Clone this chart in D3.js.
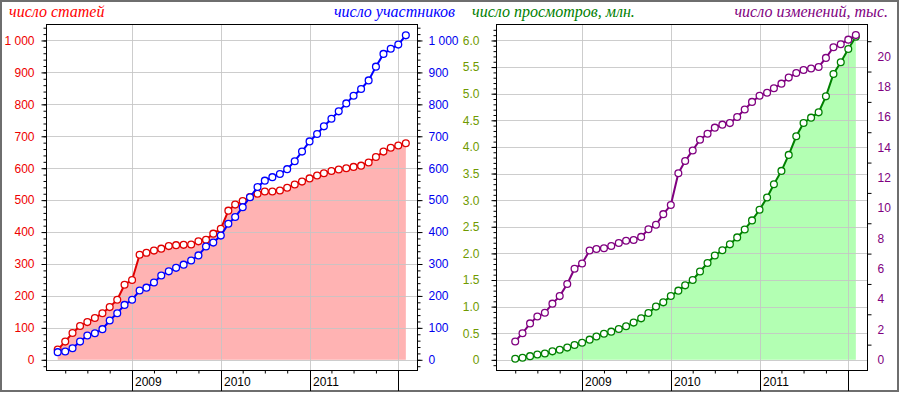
<!DOCTYPE html>
<html>
<head>
<meta charset="utf-8">
<script src="https://cdn.jsdelivr.net/npm/d3@7"></script>
<style>
  body { margin: 0; background: #fff; }
  svg { display: block; }
</style>
</head>
<body>
<svg width="900" height="393"></svg>
<script>
// Months of the left panel (first of each month); the right panel starts one month later.
const monthsL = ["2008-03","2008-04","2008-05","2008-06","2008-07","2008-08","2008-09","2008-10","2008-11","2008-12",
                 "2009-01","2009-02","2009-03","2009-04","2009-05","2009-06","2009-07","2009-08","2009-09","2009-10","2009-11","2009-12",
                 "2010-01","2010-02","2010-03","2010-04","2010-05","2010-06","2010-07","2010-08","2010-09","2010-10","2010-11","2010-12",
                 "2011-01","2011-02","2011-03","2011-04","2011-05","2011-06","2011-07","2011-08","2011-09","2011-10","2011-11","2011-12",
                 "2012-01","2012-02"];
const monthsR = monthsL.slice(1);

// число статей
const articles = [32, 57, 84, 106, 118, 131, 146, 165, 188, 235, 250, 329, 335, 342, 348, 356, 359, 360, 361, 371, 376, 395, 410, 467,
                  486, 497, 510, 520, 527, 527, 530, 539, 549, 558, 568, 577, 584, 591, 596, 600, 604, 608, 618, 635, 652, 664, 671, 678];
// число участников
const members = [24, 26, 36, 57, 76, 83, 96, 123, 146, 172, 188, 217, 226, 242, 264, 277, 288, 298, 311, 327, 355, 367, 389, 426,
                 447, 478, 509, 541, 561, 572, 582, 597, 622, 652, 684, 707, 731, 755, 778, 803, 827, 848, 875, 918, 958, 974, 987, 1016];
// число просмотров, млн.
const views = [0.02, 0.04, 0.07, 0.10, 0.12, 0.16, 0.19, 0.23, 0.28, 0.32, 0.38, 0.44, 0.49, 0.53, 0.58, 0.63, 0.70, 0.78, 0.88, 1.00,
               1.08, 1.20, 1.30, 1.40, 1.50, 1.66, 1.82, 1.96, 2.06, 2.17, 2.30, 2.45, 2.62, 2.82, 3.05, 3.30, 3.55, 3.85, 4.20, 4.45,
               4.55, 4.65, 4.95, 5.37, 5.59, 5.84, 6.07];
// число изменений, тыс.
const edits = [1.21, 1.75, 2.4, 2.85, 3.1, 3.7, 4.2, 5.0, 6.0, 6.35, 7.2, 7.3, 7.35, 7.5, 7.7, 7.85, 7.9, 8.1, 8.6, 8.9,
               9.6, 10.2, 12.3, 13.1, 13.8, 14.5, 14.9, 15.3, 15.5, 15.6, 16.0, 16.5, 17.0, 17.4, 17.6, 17.9, 18.2, 18.6, 18.9, 19.1,
               19.2, 19.3, 19.9, 20.6, 20.8, 21.1, 21.4];

const yearLabels = ["2009", "2010", "2011"];

const svg = d3.select("svg");
const parseMonth = d3.timeParse("%Y-%m");
const plotTop = 24.5, plotBottom = 370.5;
const domainX = [new Date(2008, 0, 15), new Date(2012, 2, 20)];

// overall border
svg.append("rect")
   .attr("x", 1).attr("y", 1).attr("width", 897).attr("height", 390)
   .attr("fill", "none").attr("stroke", "#6e6e6e").attr("stroke-width", 2);

const spaceFmt = d3.formatLocale({ decimal: ".", thousands: " ", grouping: [3], currency: ["", ""] }).format(",");

function drawPanel(o) {
    const x = d3.scaleTime().domain(domainX).range([o.left, o.right]);
    const yL = d3.scaleLinear().domain(o.yLDomain).range([plotBottom, plotTop]);
    const yR = d3.scaleLinear().domain(o.yRDomain).range([plotBottom, plotTop]);
    const g = svg.append("g");

    const pts = o.months.map((m, i) => ({ d: parseMonth(m), a: o.fillSeries[i], b: o.otherSeries[i] }));

    // fill under the first series
    g.append("path")
     .datum(pts)
     .attr("fill", o.fillColor)
     .attr("d", d3.area().x(p => x(p.d)).y0(yL(0)).y1(p => yL(p.a)));

    // grid
    const yearTicks = [2009, 2010, 2011, 2012].map(y => new Date(y, 0, 1));
    g.selectAll(".vg").data(yearTicks).enter().append("line")
     .attr("x1", d => Math.round(x(d)) + 0.5).attr("x2", d => Math.round(x(d)) + 0.5)
     .attr("y1", plotTop).attr("y2", plotBottom)
     .attr("stroke", "#c4c4c4").attr("stroke-opacity", 0.85);
    g.selectAll(".hg").data(o.gridValues).enter().append("line")
     .attr("x1", o.left).attr("x2", o.right)
     .attr("y1", d => Math.round(yL(d)) + 0.5).attr("y2", d => Math.round(yL(d)) + 0.5)
     .attr("stroke", "#c4c4c4").attr("stroke-opacity", 0.85);

    // series lines + circles
    function series(key, color, yScale) {
        g.append("path").datum(pts)
         .attr("fill", "none").attr("stroke", color).attr("stroke-width", 2)
         .attr("d", d3.line().x(p => x(p.d)).y(p => yScale(p[key])));
        g.append("g").selectAll("circle").data(pts).enter().append("circle")
         .attr("cx", p => x(p.d)).attr("cy", p => yScale(p[key]))
         .attr("r", 3.4)
         .attr("fill", "#fff").attr("stroke", color).attr("stroke-width", 1.3);
    }
    series("a", o.fillLine, yL);
    series("b", o.otherLine, yR);

    // frame
    g.append("rect")
     .attr("x", o.left).attr("y", plotTop).attr("width", o.right - o.left).attr("height", plotBottom - plotTop)
     .attr("fill", "none").attr("stroke", "#000");

    const styleAxis = (sel, color) => {
        sel.select(".domain").remove();
        sel.selectAll("line").attr("stroke", "#000");
        sel.selectAll("text").attr("fill", color).style("font-family", "'Liberation Sans', Arial, sans-serif").style("font-size", "12px");
    };
    // left axis
    g.append("g").attr("transform", `translate(${o.left},0)`)
     .call(d3.axisLeft(yL).tickValues(o.minorL).tickSize(3).tickFormat(""))
     .call(s => styleAxis(s, o.colorL));
    g.append("g").attr("transform", `translate(${o.left},0)`)
     .call(d3.axisLeft(yL).tickValues(o.majorL).tickSize(5).tickPadding(o.padL).tickFormat(o.fmtL))
     .call(s => styleAxis(s, o.colorL));

    // right axis
    g.append("g").attr("transform", `translate(${o.right},0)`)
     .call(d3.axisRight(yR).tickValues(o.minorR).tickSize(o.minorRSize).tickFormat(""))
     .call(s => styleAxis(s, o.colorR));
    g.append("g").attr("transform", `translate(${o.right},0)`)
     .call(d3.axisRight(yR).tickValues(o.majorR).tickSize(o.majorRSize).tickPadding(o.padR).tickFormat(o.fmtR))
     .call(s => styleAxis(s, o.colorR));

    // bottom axis: quarter ticks, year separators and labels
    const quarters = d3.timeMonth.every(3).range(new Date(2008, 3, 1), new Date(2012, 1, 1))
                       .filter(d => d.getMonth() !== 0);
    g.append("g").attr("transform", `translate(0,${plotBottom})`)
     .call(d3.axisBottom(x).tickValues(quarters).tickSize(3).tickFormat(""))
     .call(s => { s.select(".domain").remove(); s.selectAll("line").attr("stroke", "#000"); });
    g.selectAll(".ysep").data(yearTicks).enter().append("line")
     .attr("x1", d => Math.round(x(d)) + 0.5).attr("x2", d => Math.round(x(d)) + 0.5)
     .attr("y1", plotBottom).attr("y2", 391)
     .attr("stroke", "#000");
    g.selectAll(".ylab").data(yearLabels).enter().append("text")
     .attr("x", (d, i) => Math.round(x(yearTicks[i])) + 3)
     .attr("y", 386)
     .attr("fill", "#000")
     .style("font-family", "'Liberation Sans', Arial, sans-serif").style("font-size", "12px")
     .text(d => d);

    // titles
    const titleStyle = s => s.style("font-family", "'Liberation Serif', 'Times New Roman', serif")
                             .style("font-style", "italic").style("font-size", "16px");
    g.append("text").attr("x", o.titleLX).attr("y", 17).attr("fill", o.colorTitleL)
     .call(titleStyle).text(o.titleL);
    g.append("text").attr("x", o.titleRX).attr("y", 17).attr("text-anchor", "end").attr("fill", o.colorTitleR)
     .call(titleStyle).text(o.titleR);
}

drawPanel({
    left: 46.5, right: 417.5, months: monthsL,
    fillSeries: articles, otherSeries: members,
    fillColor: "#ffb3b3", fillLine: "#e00000", otherLine: "#0000ff",
    yLDomain: [-33.5, 1050], yRDomain: [-33.5, 1050],
    gridValues: d3.range(0, 1001, 100),
    majorL: d3.range(0, 1001, 100), minorL: d3.range(-20, 1041, 20),
    majorR: d3.range(0, 1001, 100), minorR: d3.range(-20, 1041, 20),
    minorRSize: 3, majorRSize: 5,
    padL: 7, padR: 6,
    fmtL: spaceFmt, fmtR: spaceFmt,
    colorL: "#ee0000", colorR: "#0000ee",
    titleL: "число статей", titleR: "число участников",
    titleLX: 9, titleRX: 455, colorTitleL: "#ff0000", colorTitleR: "#0000ff"
});

drawPanel({
    left: 496.5, right: 867.5, months: monthsR,
    fillSeries: views, otherSeries: edits,
    fillColor: "#b3ffb3", fillLine: "#008000", otherLine: "#800080",
    yLDomain: [-0.2, 6.3], yRDomain: [-0.705, 22.1],
    gridValues: d3.range(0, 6.01, 0.5),
    majorL: d3.range(0, 6.01, 0.5), minorL: d3.range(-0.1, 6.25, 0.1),
    majorR: d3.range(0, 20.1, 2), minorR: d3.range(1, 22, 2),
    minorRSize: 4, majorRSize: 0,
    padL: 12, padR: 10,
    fmtL: d => d === 0 ? "0" : d.toFixed(1), fmtR: d => d,
    colorL: "#6f9a00", colorR: "#800080",
    titleL: "число просмотров, млн.", titleR: "число изменений, тыс.",
    titleLX: 472, titleRX: 888, colorTitleL: "#008000", colorTitleR: "#800080"
});
</script>
</body>
</html>
